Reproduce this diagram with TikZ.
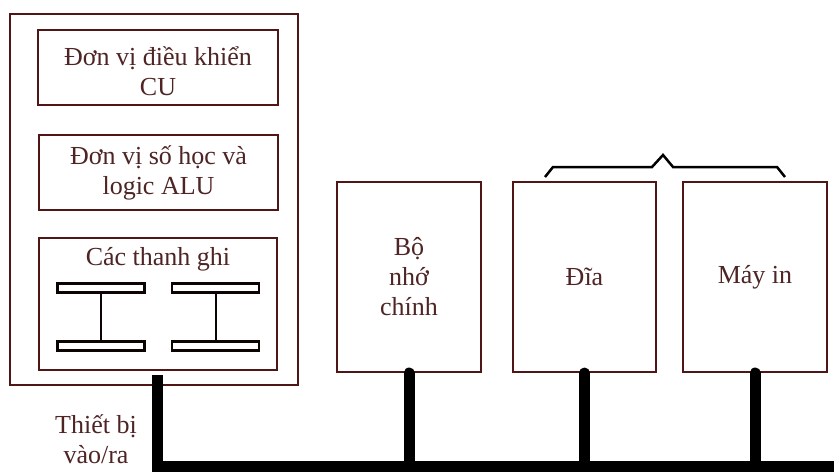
\documentclass[tikz,border=0pt]{standalone}
\usepackage{fontspec}
\setmainfont{Liberation Serif}
\definecolor{bord}{RGB}{80,22,22}
\definecolor{txt}{RGB}{78,36,36}
\begin{document}
\begin{tikzpicture}[x=1pt,y=-1pt,
  box/.style={draw=bord, line width=2pt, inner sep=0pt, fill=white},
  lbl/.style={text=txt, font=\fontsize{26}{30}\selectfont, align=center},
  bar/.style={draw=black!85!bord, line width=2.4pt, inner sep=0pt, minimum width=87pt, minimum height=9pt},
  stem/.style={line width=11pt, line cap=round, black},
  busline/.style={line width=11pt, black, line join=miter},
  bracket/.style={line width=2.5pt, black, line join=miter}]
\useasboundingbox (0,0) rectangle (834,471);
% CPU
\node[box, minimum width=288pt, minimum height=371pt] (cpu) at (154,199.5) {};
\node[box, minimum width=240pt, minimum height=75pt] (cu) at (158,67.5) {};
\node[lbl] (cut) at (158,71) {Đơn vị điều khiển\\CU};
\node[box, lbl, minimum width=239pt, minimum height=75pt] (alu) at (158.5,172.5) {Đơn vị số học và\\logic ALU};
\node[box, minimum width=238pt, minimum height=132pt] (reg) at (158,304) {};
\node[lbl] (regt) at (158,259) {Các thanh ghi};
\node[bar] (r1t) at (101,288) {};
\node[bar] (r1b) at (101,346) {};
\node[bar] (r2t) at (215.5,288) {};
\node[bar] (r2b) at (215.5,346) {};
\draw[line width=2pt, black!85!bord] (r1t.south) -- (r1b.north);
\draw[line width=2pt, black!85!bord] (r2t.south) -- (r2b.north);
% peripherals
\node[box, lbl, minimum width=144pt, minimum height=190pt] (mem) at (409,277) {Bộ\\nhớ\\chính};
\node[box, lbl, minimum width=143pt, minimum height=190pt] (disk) at (584.5,277) {Đĩa};
\node[box, lbl, minimum width=144pt, minimum height=190pt] (prn) at (755,277) {Máy in};
\node[lbl] (io) at (96,439) {Thiết bị\\vào/ra};
% bus
\coordinate (cpuS) at (157,375);
\coordinate (busL) at (157,466);
\coordinate (busR) at (845,466);
\draw[busline] (cpuS) -- (busL) -- (busR);
\draw[stem] (mem.south) -- (mem.south |- busL);
\draw[stem] (disk.south) -- (disk.south |- busL);
\draw[stem] (prn.south) -- (prn.south |- busL);
% bracket
\coordinate (b1) at (545,177);
\coordinate (b2) at (553,167);
\coordinate (b3) at (652,167);
\coordinate (b4) at (663,155);
\coordinate (b5) at (673,167);
\coordinate (b6) at (777,167);
\coordinate (b7) at (785,177);
\draw[bracket] (b1) -- (b2) -- (b3) -- (b4) -- (b5) -- (b6) -- (b7);
\end{tikzpicture}
\end{document}
